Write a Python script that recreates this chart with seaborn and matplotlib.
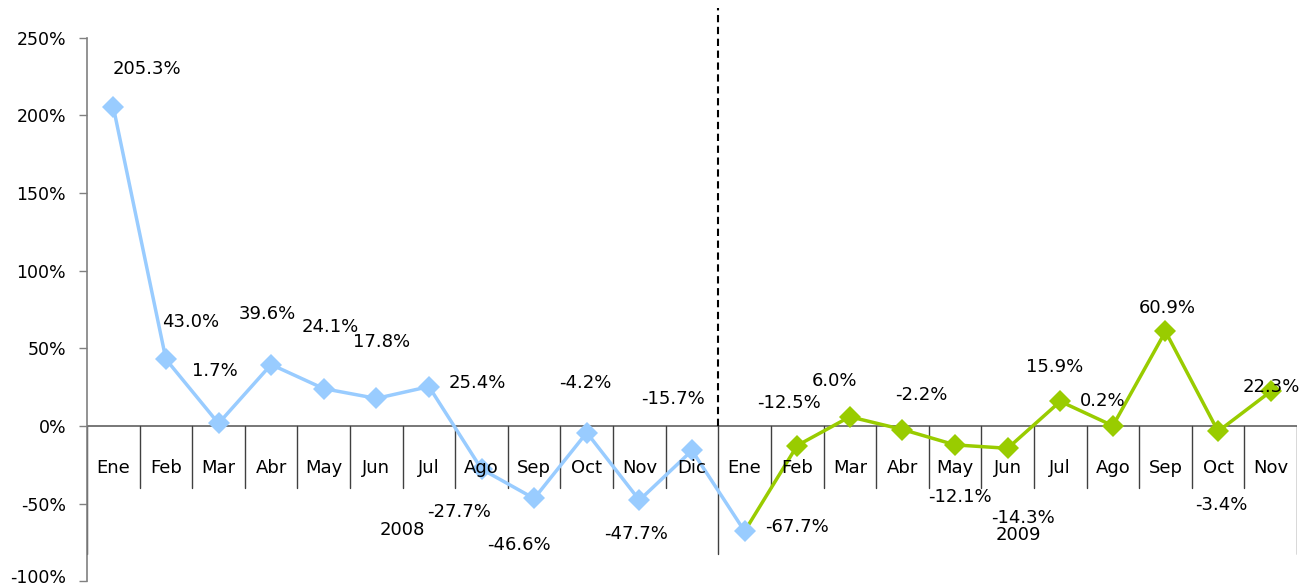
import numpy as np
import pandas as pd
import matplotlib
matplotlib.use("Agg")
import matplotlib.pyplot as plt
import matplotlib.transforms as mtransforms
import seaborn as sns

# Data
months_2008 = ["Ene", "Feb", "Mar", "Abr", "May", "Jun", "Jul", "Ago", "Sep", "Oct", "Nov", "Dic"]
months_2009 = ["Ene", "Feb", "Mar", "Abr", "May", "Jun", "Jul", "Ago", "Sep", "Oct", "Nov"]
values_2008 = [205.3, 43.0, 1.7, 39.6, 24.1, 17.8, 25.4, -27.7, -46.6, -4.2, -47.7, -15.7]
values_2009 = [-67.7, -12.5, 6.0, -2.2, -12.1, -14.3, 15.9, 0.2, 60.9, -3.4, 22.3]
years = ["2008", "2009"]
yticks = [-100, -50, 0, 50, 100, 150, 200, 250]

# label offsets (pixels, right / up) for the value labels
offsets_2008 = [(34, 38), (25, 37), (-4, 52), (-4, 51), (7, 62), (5, 56), (48, 4),
                (-23, -43), (-15, -47), (-1, 50), (-3, -34), (-19, 51)]
offsets_2009 = [(52, 4), (-8, 43), (-15, 36), (19, 35), (5, -52), (15, -70), (-6, 34),
                (-10, 25), (2, 23), (3, -74), (1, 4)]

blue = "#99CCFF"
green = "#99CC00"

sns.set_style("white")
plt.rcParams["font.family"] = ["DejaVu Sans"]
plt.rcParams["text.color"] = "black"
plt.rcParams["ytick.color"] = "black"

labels = months_2008 + months_2009
n = len(labels)
x_all = np.arange(n)
n08 = len(months_2008)

df_blue = pd.DataFrame({"x": x_all[:n08 + 1], "v": values_2008 + values_2009[:1]})
df_green = pd.DataFrame({"x": x_all[n08:], "v": values_2009})

fig = plt.figure(figsize=(13.14, 5.88), dpi=100)
ax = fig.add_axes([87 / 1314, 0, 1210 / 1314, 1])

# green series first, blue on top (Ene 2009 keeps the blue marker)
sns.lineplot(data=df_green, x="x", y="v", ax=ax, color=green, linewidth=2.5,
             marker="D", markersize=11, markeredgewidth=0, markevery=list(range(1, len(values_2009))))
sns.lineplot(data=df_blue, x="x", y="v", ax=ax, color=blue, linewidth=2.5,
             marker="D", markersize=11, markeredgewidth=0)

ax.set_xlim(-0.5, n - 0.5)
ax.set_ylim(-104.2, 274.2)
ax.set_xlabel("")
ax.set_ylabel("")

# y axis
ax.set_yticks(yticks)
ax.set_yticklabels([f"{t}%" for t in yticks], fontsize=12.5, color="black")
ax.tick_params(axis="y", direction="out", length=6, width=1, color="#808080", pad=9, left=True)
ax.tick_params(axis="x", bottom=False, labelbottom=False)
# nudge the bottom tick label up so it stays inside the figure
bottom_lab = ax.get_yticklabels()[0]
bottom_lab.set_transform(bottom_lab.get_transform() +
                         mtransforms.ScaledTranslation(0, 5 / 100, fig.dpi_scale_trans))
for s in ["top", "right", "bottom"]:
    ax.spines[s].set_visible(False)
ax.spines["left"].set_bounds(-100, 250)
ax.spines["left"].set_color("#808080")
ax.spines["left"].set_linewidth(1.2)

# category axis at zero with boxed labels
ax.axhline(0, color="#606060", linewidth=1.2, zorder=1)
bounds = np.arange(n + 1) - 0.5
group_edges = [0, n08, n]
for i, b in enumerate(bounds):
    low = -82 if i in group_edges else -40
    ax.plot([b, b], [0, low], color="#404040", linewidth=1.0, zorder=1)
for xi, lab in zip(x_all, labels):
    ax.text(xi, -27, lab, ha="center", va="center", fontsize=13, color="black")

# dashed separator between years
ax.plot([n08 - 0.5, n08 - 0.5], [0, 269], color="black", linewidth=1.5,
        linestyle=(0, (3.5, 2.2)), zorder=1)

# year labels
ax.text(5.5, -67, years[0], ha="center", va="center", fontsize=13, color="black")
ax.text(n08 + 5.2, -70, years[1], ha="center", va="center", fontsize=13, color="black")

# value labels
for xi, v, (dx, dy) in zip(x_all[:n08], values_2008, offsets_2008):
    ax.annotate(f"{v:.1f}%", (xi, v), xytext=(dx, dy), textcoords="offset pixels",
                ha="center", va="center", fontsize=13, color="black", zorder=5)
for xi, v, (dx, dy) in zip(x_all[n08:], values_2009, offsets_2009):
    ax.annotate(f"{v:.1f}%", (xi, v), xytext=(dx, dy), textcoords="offset pixels",
                ha="center", va="center", fontsize=13, color="black", zorder=5)

fig.savefig("out.png", dpi=100)
